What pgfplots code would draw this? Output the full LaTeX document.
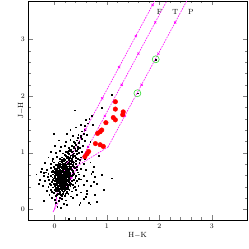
\documentclass[border=0pt]{standalone}
\usepackage{pgfplots}
\pgfplotsset{compat=1.18}
\definecolor{mag}{RGB}{255,0,255}
\definecolor{grn}{RGB}{60,220,60}
\begin{document}
\begin{tikzpicture}
\begin{axis}[
  scale only axis, width=218.7bp, height=219bp,
  xmin=-0.5, xmax=3.67, ymin=-0.19, ymax=3.68,
  xtick={0,1,2,3}, ytick={0,1,2,3}, minor tick num=4,
  tick pos=both, tick align=inside,
  major tick length=4.5bp, minor tick length=2.5bp,
  tick label style={font=\fontsize{7.5}{9}\selectfont},
  label style={font=\fontsize{7.5}{9}\selectfont},
  xlabel={H$-$K}, ylabel={J$-$H},
  xlabel style={at={(axis description cs:0.5,-0.0)}, anchor=north, yshift=-9bp},
  ylabel style={at={(axis description cs:-0.033,0.5)}, anchor=center, rotate=0},
  line width=0.4pt, clip=true,
]
% field stars
\addplot[only marks, mark=square*, mark size=0.42pt, black] coordinates {
(0.27,-0.16)(0.24,0.08)(0.47,0.08)(0.68,0.09)(0.05,0.05)(0.12,0.02)(0.02,0.12)(0.18,0.1)
(0.0,0.17)(0.08,0.15)(0.14,0.19)(0.22,0.16)(0.35,0.2)(-0.05,0.2)(0.1,0.21)(0.55,0.18)
(-0.1,0.26)(0.02,0.24)(0.06,0.27)(0.11,0.25)(0.15,0.28)(0.19,0.24)(0.26,0.27)(0.31,0.23)(0.42,0.26)(-0.02,0.29)(0.09,0.3)
(-0.15,0.33)(-0.06,0.31)(0.0,0.34)(0.03,0.32)(0.07,0.35)(0.1,0.31)(0.13,0.34)(0.16,0.32)(0.2,0.35)(0.23,0.31)(0.28,0.34)(0.33,0.32)(0.4,0.35)(0.5,0.3)(0.62,0.33)(0.05,0.37)(0.12,0.38)(0.18,0.37)
(-0.22,0.42)(-0.12,0.4)(-0.07,0.43)(-0.03,0.39)(0.0,0.41)(0.02,0.44)(0.05,0.4)(0.07,0.42)(0.09,0.45)(0.11,0.39)(0.13,0.43)(0.15,0.41)(0.17,0.44)(0.19,0.4)(0.22,0.43)(0.25,0.39)(0.27,0.44)(0.3,0.41)(0.34,0.43)(0.38,0.4)(0.45,0.42)(0.55,0.44)(0.08,0.47)(0.14,0.48)(0.2,0.47)
(-0.28,0.52)(-0.18,0.5)(-0.1,0.53)(-0.06,0.49)(-0.03,0.52)(0.0,0.5)(0.02,0.54)(0.04,0.51)(0.06,0.49)(0.08,0.53)(0.1,0.5)(0.12,0.54)(0.14,0.51)(0.16,0.49)(0.18,0.53)(0.2,0.5)(0.22,0.54)(0.24,0.51)(0.27,0.49)(0.3,0.53)(0.33,0.5)(0.37,0.52)(0.42,0.5)(0.5,0.53)(0.62,0.51)(0.05,0.56)(0.11,0.57)(0.17,0.56)(0.23,0.57)(0.0,0.57)
(-0.35,0.62)(-0.2,0.6)(-0.12,0.63)(-0.07,0.59)(-0.04,0.62)(0.0,0.6)(0.02,0.64)(0.04,0.61)(0.06,0.59)(0.08,0.63)(0.1,0.6)(0.12,0.64)(0.14,0.61)(0.16,0.59)(0.18,0.63)(0.2,0.6)(0.22,0.64)(0.24,0.61)(0.26,0.59)(0.29,0.63)(0.32,0.6)(0.36,0.63)(0.4,0.6)(0.46,0.62)(0.55,0.6)(0.7,0.63)(0.9,0.61)(0.07,0.66)(0.13,0.67)(0.19,0.66)(0.25,0.67)(0.03,0.67)
(-0.25,0.72)(-0.15,0.7)(-0.08,0.73)(-0.03,0.69)(0.01,0.72)(0.04,0.7)(0.07,0.74)(0.09,0.71)(0.11,0.69)(0.13,0.73)(0.15,0.7)(0.17,0.74)(0.19,0.71)(0.21,0.69)(0.23,0.73)(0.25,0.7)(0.28,0.74)(0.31,0.71)(0.34,0.69)(0.38,0.73)(0.43,0.7)(0.5,0.72)(0.6,0.7)(0.1,0.77)(0.16,0.77)(0.22,0.78)(0.28,0.77)
(-0.18,0.82)(-0.08,0.8)(-0.02,0.83)(0.03,0.79)(0.07,0.82)(0.1,0.8)(0.13,0.84)(0.16,0.81)(0.19,0.79)(0.22,0.83)(0.25,0.8)(0.28,0.84)(0.31,0.81)(0.34,0.79)(0.37,0.83)(0.41,0.8)(0.47,0.82)(0.55,0.8)(0.68,0.83)(0.14,0.87)(0.2,0.88)(0.26,0.87)(0.33,0.88)
(-0.12,0.92)(-0.03,0.9)(0.04,0.93)(0.1,0.89)(0.14,0.92)(0.18,0.9)(0.21,0.94)(0.24,0.91)(0.27,0.89)(0.3,0.93)(0.33,0.9)(0.36,0.94)(0.4,0.91)(0.44,0.89)(0.5,0.92)(0.58,0.9)(0.2,0.97)(0.27,0.98)(0.34,0.97)(0.42,0.98)
(-0.08,1.02)(0.03,1.0)(0.1,1.03)(0.16,0.99)(0.21,1.02)(0.25,1.0)(0.29,1.04)(0.33,1.01)(0.37,0.99)(0.41,1.03)(0.46,1.0)(0.52,1.02)(0.62,1.0)(0.28,1.07)(0.36,1.08)(0.44,1.07)
(0.0,1.12)(0.12,1.1)(0.2,1.13)(0.27,1.09)(0.32,1.12)(0.36,1.1)(0.4,1.14)(0.44,1.11)(0.48,1.09)(0.54,1.12)(0.63,1.1)(0.38,1.17)(0.46,1.18)
(0.08,1.22)(0.22,1.2)(0.3,1.23)(0.37,1.19)(0.42,1.22)(0.47,1.2)(0.52,1.24)(0.58,1.21)(0.68,1.2)(0.44,1.27)(0.5,1.28)
(-0.02,1.34)(0.24,1.34)(0.3,1.41)(0.35,1.3)(0.45,1.32)(0.5,1.3)(0.55,1.33)(0.62,1.31)(0.52,1.38)(0.58,1.4)
(0.4,1.45)(0.5,1.5)(0.58,1.48)(0.64,1.52)(0.72,1.5)(0.6,1.58)(0.71,1.66)(0.39,1.75)(0.9,1.8)(1.09,2.02)(0.66,1.6)
(0.77,0.58)(0.74,0.49)(0.69,0.41)(0.73,0.66)(0.93,0.34)(0.62,0.28)(0.49,0.11)(0.65,0.11)(0.81,0.13)(1.09,0.55)(0.76,0.25)
(-0.27,0.66)(-0.21,0.64)(-0.11,0.52)(-0.08,0.34)(-0.3,0.45)(0.8,0.45)(0.75,0.75)(0.85,0.95)(-0.2,0.15)(0.6,0.22)
(0.01,0.46)(0.04,0.45)(0.07,0.46)(0.1,0.45)(0.12,0.46)(0.15,0.45)(0.18,0.46)(0.21,0.45)(0.24,0.46)(0.28,0.46)(-0.02,0.45)
(0.03,0.55)(0.07,0.55)(0.09,0.56)(0.13,0.55)(0.15,0.56)(0.19,0.55)(0.21,0.56)(0.26,0.55)(0.29,0.56)(-0.01,0.55)
(0.01,0.65)(0.05,0.65)(0.09,0.66)(0.11,0.65)(0.15,0.66)(0.17,0.65)(0.21,0.66)(0.23,0.65)(0.27,0.66)(0.3,0.65)(0.34,0.66)(-0.02,0.66)
(0.05,0.75)(0.08,0.76)(0.12,0.75)(0.14,0.76)(0.18,0.75)(0.2,0.76)(0.24,0.75)(0.26,0.76)(0.3,0.75)(0.33,0.76)(0.36,0.75)
(0.1,0.85)(0.17,0.86)(0.23,0.85)(0.29,0.86)(0.35,0.85)(0.4,0.86)
(0.03,0.38)(0.09,0.37)(0.15,0.38)(0.21,0.38)(0.25,0.37)
(0.015,0.425)(0.035,0.475)(0.055,0.425)(0.075,0.505)(0.095,0.415)(0.115,0.485)(0.135,0.525)(0.155,0.435)(0.175,0.505)(0.195,0.425)(0.215,0.485)(0.235,0.525)(0.255,0.435)(0.275,0.515)(0.295,0.475)(0.315,0.445)
(0.005,0.585)(0.025,0.625)(0.045,0.535)(0.065,0.615)(0.085,0.575)(0.105,0.625)(0.125,0.585)(0.145,0.535)(0.165,0.625)(0.185,0.575)(0.205,0.615)(0.225,0.585)(0.245,0.635)(0.265,0.575)(0.285,0.605)(0.305,0.585)(0.345,0.615)
(0.025,0.685)(0.045,0.725)(0.065,0.685)(0.085,0.735)(0.105,0.705)(0.125,0.685)(0.145,0.735)(0.165,0.695)(0.185,0.725)(0.205,0.735)(0.225,0.695)(0.245,0.725)(0.265,0.685)(0.285,0.715)(0.305,0.735)(0.325,0.695)
(0.065,0.785)(0.095,0.815)(0.115,0.795)(0.145,0.825)(0.175,0.805)(0.205,0.815)(0.235,0.795)(0.265,0.825)(0.295,0.795)(0.325,0.835)(0.355,0.815)
(0.015,0.355)(0.045,0.335)(0.065,0.385)(0.085,0.325)(0.105,0.355)(0.125,0.395)(0.145,0.355)(0.165,0.385)(0.185,0.335)(0.205,0.395)(0.225,0.365)(0.245,0.415)
(0.045,0.255)(0.075,0.285)(0.105,0.275)(0.135,0.245)(0.165,0.295)(0.205,0.275)(0.235,0.295)
(0.185,0.895)(0.225,0.915)(0.255,0.935)(0.285,0.915)(0.315,0.955)(0.345,0.925)(0.385,0.945)
(0.235,1.015)(0.265,1.035)(0.315,1.055)(0.345,1.025)(0.395,1.065)(0.425,1.035)
(-0.045,0.565)(-0.055,0.665)(-0.085,0.455)(-0.135,0.575)(-0.165,0.655)(-0.015,0.755)(-0.045,0.855)(0.395,0.555)(0.435,0.655)(0.415,0.755)(0.485,0.875)(0.395,0.475)(0.355,0.375)(0.455,0.545)
};
% dwarf locus
\addplot[mag, line width=0.6pt] coordinates {(-0.03,-0.05)(0.0,0.0)(0.03,0.13)(0.05,0.3)(0.1,0.45)(0.15,0.6)(0.19,0.67)(0.22,0.66)(0.24,0.64)(0.27,0.62)(0.33,0.62)(0.38,0.66)};
% giant locus
\addplot[mag, line width=0.6pt] coordinates {(0.06,0.37)(0.12,0.5)(0.17,0.64)(0.22,0.78)(0.25,0.83)(0.27,0.86)};
% CTTS locus
\addplot[mag, line width=0.6pt, dash pattern=on 1.6pt off 1.1pt] coordinates {(0.3,0.69)(1.02,1.10)};
% reddening vectors
\addplot[mag, line width=0.6pt, dash pattern=on 1.6pt off 1.1pt] coordinates {(0.27,0.86)(1.91,3.68)};
\addplot[mag, line width=0.6pt, dash pattern=on 1.6pt off 1.1pt] coordinates {(0.0,0.0)(2.14,3.68)};
\addplot[mag, line width=0.6pt, dash pattern=on 1.6pt off 1.1pt] coordinates {(1.02,1.10)(2.52,3.68)};
\addplot[only marks, mark=x, mark size=1.5pt, mag, line width=0.6pt] coordinates {
(0.59,1.41)(0.91,1.96)(1.23,2.51)(1.55,3.06)(1.87,3.61)
(0.32,0.55)(0.64,1.10)(0.96,1.65)(1.28,2.20)(1.60,2.75)(1.92,3.30)
(1.34,1.65)(1.66,2.20)(1.98,2.75)(2.30,3.30)};
% red sources
\addplot[only marks, mark=*, mark size=2.3pt, red, mark options={draw=red, fill=red}] coordinates {
(1.16,1.90)(1.16,1.77)(1.31,1.72)(1.30,1.67)(1.12,1.62)(1.16,1.58)(0.98,1.53)(0.90,1.40)(0.87,1.37)(0.82,1.34)(0.78,1.16)(0.87,1.14)(0.93,1.11)(0.65,1.02)(0.62,0.98)(0.58,0.93)};
% green circled sources
\addplot[only marks, mark=o, mark size=3.5pt, grn, line width=0.6pt] coordinates {(1.93,2.65)(1.58,2.05)};
\addplot[only marks, mark=square*, mark size=0.45pt, black] coordinates {(1.93,2.65)(1.58,2.05)};
\node[font=\fontsize{7.5}{9}\selectfont] at (axis cs:2.0,3.49) {F};
\node[font=\fontsize{7.5}{9}\selectfont] at (axis cs:2.3,3.49) {T};
\node[font=\fontsize{7.5}{9}\selectfont] at (axis cs:2.6,3.49) {P};
\end{axis}
\pgfresetboundingbox
\path (-28.3bp,-29bp) rectangle (220.7bp,220bp);
\end{tikzpicture}
\end{document}
